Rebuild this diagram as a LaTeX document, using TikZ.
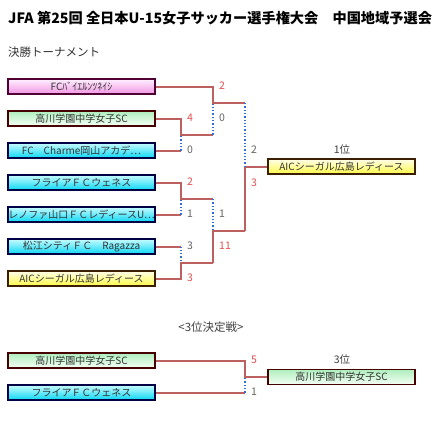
\documentclass[tikz,border=0pt]{standalone}
\usepackage{fontspec}
\setmainfont{Noto Sans CJK JP}
\definecolor{wline}{RGB}{188,96,96}
\definecolor{dline}{RGB}{50,110,210}
\definecolor{wscore}{RGB}{228,80,80}
\definecolor{lscore}{RGB}{100,100,100}
\tikzset{
  team/.style={draw, line width=1.1pt, rectangle, minimum width=147pt, minimum height=15pt, inner sep=0pt, font=\fontsize{10}{10}\selectfont, text=black!80},
  pinkbox/.style={team, draw={rgb,255:red,80;green,0;blue,50}, top color={rgb,255:red,255;green,240;blue,255}, bottom color={rgb,255:red,242;green,150;blue,228}},
  greenbox/.style={team, draw={rgb,255:red,70;green,0;blue,0}, top color={rgb,255:red,175;green,238;blue,190}, bottom color={rgb,255:red,245;green,255;blue,245}},
  cyanbox/.style={team, draw={rgb,255:red,0;green,0;blue,70}, top color={rgb,255:red,200;green,252;blue,255}, bottom color={rgb,255:red,10;green,215;blue,245}},
  yellowbox/.style={team, draw={rgb,255:red,60;green,30;blue,0}, top color={rgb,255:red,255;green,255;blue,235}, bottom color={rgb,255:red,255;green,250;blue,70}},
  win/.style={line width=2pt, wline},
  lose/.style={line width=1.3pt, dline, dotted},
  wsc/.style={anchor=west, inner sep=0pt, text=wscore, font=\fontsize{10.5}{11}\selectfont},
  lsc/.style={anchor=west, inner sep=0pt, text=lscore, font=\fontsize{10.5}{11}\selectfont},
  lbl/.style={inner sep=0pt, text=black!75, font=\fontsize{10.5}{11}\selectfont},
}
\begin{document}
\begin{tikzpicture}[x=1pt, y=-1pt]
\useasboundingbox[fill=white] (0,0) rectangle (448,421);
\node[anchor=west, inner sep=0pt, font=\fontsize{14.2}{15}\selectfont\bfseries] (title) at (8,18) {JFA 第25回 全日本U-15女子サッカー選手権大会　中国地域予選会};
\node[anchor=west, inner sep=0pt, font=\fontsize{11.5}{12}\selectfont, text=black!80] (sub) at (8,52) {決勝トーナメント};

\node[pinkbox] (t1) at (81.5,86.5) {FCﾊﾞｲｴﾙﾝﾂﾈｲｼ};
\node[greenbox] (t2) at (81.5,118.5) {高川学園中学女子SC};
\node[cyanbox] (t3) at (81.5,150.5) {FC　Charme岡山アカデ…};
\node[cyanbox] (t4) at (81.5,182.5) {フライアＦＣウェネス};
\node[cyanbox] (t5) at (81.5,214.5) {レノファ山口ＦＣレディースU…};
\node[cyanbox] (t6) at (81.5,246.5) {松江シティＦＣ　Ragazza};
\node[yellowbox] (t7) at (81.5,278.5) {AICシーガル広島レディース};
\node[yellowbox] (w1) at (341.5,166.5) {AICシーガル広島レディース};
\node[lbl] (r1) at (342,150) {1位};

\coordinate (a1) at (181,134.5);
\coordinate (a2) at (181,199);
\coordinate (a3) at (181,262.5);
\coordinate (s1) at (213,103);
\coordinate (s2) at (213,231);
\coordinate (f) at (245,166.5);

% round 1
\draw[win] (t2.east) -| (a1) -- (a1 -| s1);
\draw[win] (t3.east) -- (t3.east -| a1);
\draw[lose] (t3.east -| a1) -- (a1);
\draw[win] (t4.east) -| (a2) -- (a2 -| s1);
\draw[win] (t5.east) -- (t5.east -| a2);
\draw[lose] (t5.east -| a2) -- (a2);
\draw[win] (t6.east) -- (t6.east -| a3);
\draw[lose] (t6.east -| a3) -- (a3);
\draw[win] (t7.east) -| (a3) -- (a3 -| s2);
% semifinals
\draw[win] (t1.east) -| (s1) -- (s1 -| f);
\draw[lose] (a1 -| s1) -- (s1);
\draw[win] (a3 -| s2) -- (s2) -- (s2 -| f);
\draw[lose] (a2 -| s2) -- (s2);
% final
\draw[win] (s2 -| f) -- (f) -- (w1.west);
\draw[lose] (s1 -| f) -- (f);

\node[wsc] (n1) at (219,86) {2};
\node[wsc] (n2) at (187,118) {4};
\node[lsc] (n3) at (219,118) {0};
\node[lsc] (n4) at (187,150) {0};
\node[lsc] (n5) at (251,150) {2};
\node[wsc] (n6) at (251,183) {3};
\node[wsc] (n7) at (187,182) {2};
\node[lsc] (n8) at (187,214) {1};
\node[lsc] (n9) at (219,214) {1};
\node[lsc] (n10) at (187,246) {3};
\node[wsc] (n11) at (219,246) {11};
\node[wsc] (n12) at (187,278) {3};

% third place
\node[lbl, font=\fontsize{11.5}{12}\selectfont] (tp) at (211,327) {<3位決定戦>};
\node[greenbox] (b1) at (81.5,360.5) {高川学園中学女子SC};
\node[cyanbox] (b2) at (81.5,392.5) {フライアＦＣウェネス};
\node[greenbox] (w3) at (341.5,377) {高川学園中学女子SC};
\node[lbl] (r3) at (342,360) {3位};
\coordinate (g) at (245,377);
\draw[win] (b1.east) -| (g) -- (w3.west);
\draw[win] (b2.east) -- (b2.east -| g);
\draw[lose] (b2.east -| g) -- (g);
\node[wsc] (m1) at (251,360) {5};
\node[lsc] (m2) at (251,392) {1};
\end{tikzpicture}
\end{document}
